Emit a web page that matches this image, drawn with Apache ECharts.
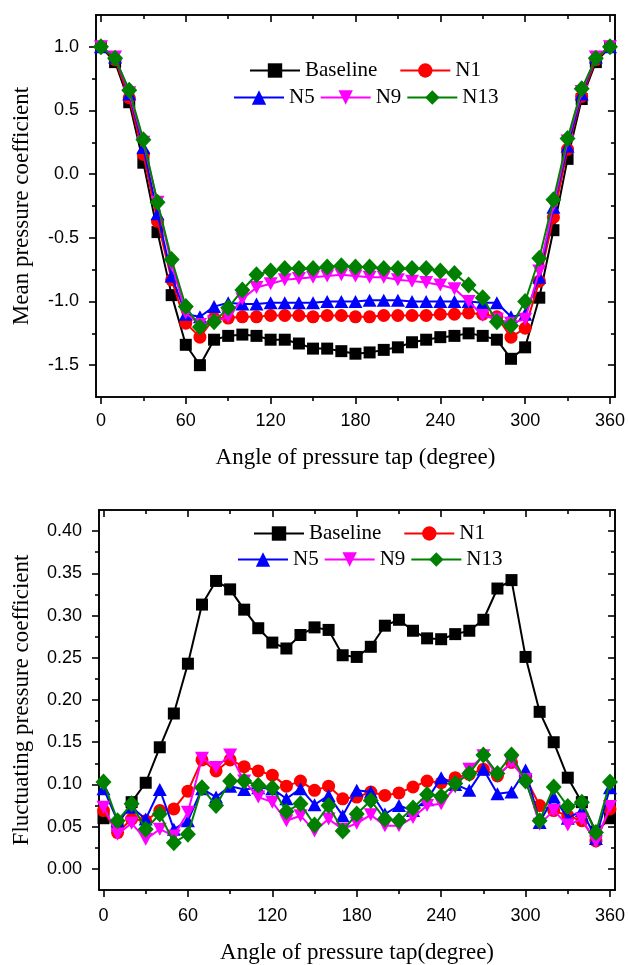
<!DOCTYPE html>
<html>
<head>
<meta charset="utf-8">
<script src="https://cdn.jsdelivr.net/npm/echarts@6/dist/echarts.min.js"></script>
<style>
html,body{margin:0;padding:0;background:#fff;}
#chart{width:628px;height:965px;}
</style>
</head>
<body>
<div id="chart"></div>
<script>
// ---------- DATA ----------
const angles = [0,10,20,30,40,50,60,70,80,90,100,110,120,130,140,150,160,170,180,190,200,210,220,230,240,250,260,270,280,290,300,310,320,330,340,350,360];
const seriesNames = ['Baseline','N1','N5','N9','N13'];

// Mean pressure coefficient
const meanBaseline = [1.0,0.88,0.565,0.09,-0.455,-0.95,-1.34,-1.50,-1.30,-1.27,-1.26,-1.27,-1.30,-1.30,-1.33,-1.37,-1.37,-1.39,-1.41,-1.40,-1.38,-1.36,-1.32,-1.30,-1.28,-1.27,-1.25,-1.27,-1.30,-1.45,-1.36,-0.97,-0.44,0.12,0.59,0.88,1.0];
const meanN1 = [1.0,0.90,0.60,0.155,-0.37,-0.83,-1.17,-1.28,-1.13,-1.13,-1.12,-1.12,-1.11,-1.11,-1.11,-1.12,-1.11,-1.11,-1.12,-1.12,-1.11,-1.11,-1.11,-1.11,-1.10,-1.10,-1.09,-1.10,-1.12,-1.28,-1.21,-0.84,-0.34,0.195,0.61,0.90,1.0];
const meanN5 = [1.0,0.92,0.63,0.21,-0.31,-0.80,-1.10,-1.12,-1.04,-1.01,-1.02,-1.02,-1.01,-1.01,-1.01,-1.01,-1.00,-1.00,-1.00,-0.99,-0.99,-0.99,-1.00,-1.00,-1.00,-1.00,-1.00,-1.01,-1.01,-1.12,-1.10,-0.81,-0.26,0.22,0.63,0.92,1.0];
const meanN9 = [1.0,0.92,0.64,0.25,-0.22,-0.71,-1.09,-1.18,-1.16,-1.12,-0.98,-0.89,-0.86,-0.83,-0.82,-0.81,-0.80,-0.79,-0.80,-0.81,-0.81,-0.83,-0.84,-0.85,-0.87,-0.90,-1.00,-1.11,-1.14,-1.17,-1.14,-0.76,-0.24,0.26,0.65,0.92,1.0];
const meanN13 = [1.0,0.91,0.66,0.27,-0.22,-0.67,-1.04,-1.20,-1.16,-1.05,-0.91,-0.79,-0.76,-0.74,-0.74,-0.74,-0.73,-0.72,-0.73,-0.73,-0.74,-0.74,-0.74,-0.74,-0.76,-0.78,-0.87,-0.97,-1.16,-1.19,-1.00,-0.66,-0.20,0.28,0.67,0.91,1.0];

// Fluctuating pressure coefficient
const flucBaseline = [0.060,0.052,0.079,0.102,0.144,0.184,0.243,0.313,0.341,0.331,0.307,0.285,0.268,0.261,0.277,0.286,0.283,0.253,0.251,0.263,0.288,0.295,0.282,0.273,0.272,0.278,0.282,0.295,0.332,0.342,0.251,0.186,0.150,0.108,0.079,0.044,0.060];
const flucN1 = [0.069,0.043,0.059,0.057,0.069,0.071,0.092,0.129,0.116,0.129,0.121,0.116,0.111,0.098,0.104,0.093,0.098,0.083,0.085,0.091,0.087,0.090,0.097,0.104,0.102,0.108,0.112,0.118,0.110,0.126,0.108,0.075,0.069,0.063,0.057,0.033,0.071];
const flucN5 = [0.095,0.057,0.073,0.059,0.094,0.047,0.057,0.095,0.085,0.098,0.094,0.096,0.095,0.083,0.095,0.076,0.087,0.063,0.093,0.091,0.065,0.075,0.069,0.082,0.108,0.100,0.093,0.118,0.089,0.091,0.117,0.055,0.085,0.060,0.069,0.036,0.096];
const flucN9 = [0.073,0.041,0.054,0.035,0.047,0.039,0.067,0.131,0.120,0.135,0.104,0.085,0.079,0.057,0.063,0.045,0.059,0.047,0.054,0.064,0.051,0.051,0.061,0.075,0.077,0.097,0.118,0.134,0.110,0.126,0.106,0.053,0.069,0.052,0.059,0.032,0.074];
const flucN13 = [0.103,0.057,0.077,0.047,0.065,0.031,0.041,0.096,0.075,0.104,0.104,0.099,0.096,0.068,0.077,0.052,0.075,0.045,0.065,0.081,0.059,0.057,0.072,0.088,0.086,0.101,0.113,0.135,0.113,0.135,0.104,0.057,0.097,0.074,0.079,0.043,0.103];

// Tick labels
const xMajorTicks = [0,60,120,180,240,300,360];
const xMinorTicks = [30,90,150,210,270,330];
const meanMajorTicks = [-1.5,-1.0,-0.5,0.0,0.5,1.0];
const meanMinorTicks = [-1.25,-0.75,-0.25,0.25,0.75];
const flucMajorTicks = [0.00,0.05,0.10,0.15,0.20,0.25,0.30,0.35,0.40];
const flucMinorTicks = [0.025,0.075,0.125,0.175,0.225,0.275,0.325,0.375];

// ---------- STYLE ----------
const colors = ['#000000','#ff0000','#0000ff','#ff00ff','#008000'];
const symbolList = ['rect','circle','triangle','path://M0,0 L20,0 L10,17.3 Z','diamond'];
const symbolSizes = [12,13,[14,13],[14,13],[16,17]];
const serifFont = '"Liberation Serif","Times New Roman",serif';
const sansFont = '"Liberation Sans",Arial,sans-serif';

const grids = [
  {left:96, top:15, width:520, height:382},
  {left:99, top:510, width:518, height:381}
];
const xRanges = [[-3.5,363.5],[-3.2,363.6]];
const yRanges = [[-1.75,1.25],[-0.025,0.425]];

const lineSt = {color:'#000', width:1.6};
const xAxes = [], yAxes = [];

function addX(g, pos, ticks, len, inside, withLabel, extra) {
  const a = {
    type:'value', gridIndex:g, min:xRanges[g][0], max:xRanges[g][1], position:pos,
    axisLine:{show:true, onZero:false, lineStyle:lineSt},
    axisTick:{show:true, inside:inside, length:len, customValues:ticks, lineStyle:lineSt},
    axisLabel: withLabel ? {show:true, customValues:ticks, margin:withLabel.margin, color:'#000', fontSize:18, fontFamily:sansFont, formatter:v=>String(Math.round(v))} : {show:false},
    splitLine:{show:false}, minorTick:{show:false}
  };
  Object.assign(a, extra||{});
  xAxes.push(a);
  return xAxes.length-1;
}
function addY(g, pos, ticks, len, inside, withLabel, extra) {
  const a = {
    type:'value', gridIndex:g, min:yRanges[g][0], max:yRanges[g][1], position:pos,
    axisLine:{show:true, onZero:false, lineStyle:lineSt},
    axisTick:{show:true, inside:inside, length:len, customValues:ticks, lineStyle:lineSt},
    axisLabel: withLabel ? {show:true, customValues:ticks, margin:withLabel.margin, color:'#000', fontSize:18, fontFamily:sansFont, formatter:withLabel.fmt} : {show:false},
    splitLine:{show:false}, minorTick:{show:false}
  };
  Object.assign(a, extra||{});
  yAxes.push(a);
  return yAxes.length-1;
}

const xTitles = ['Angle of pressure tap (degree)','Angle of pressure tap(degree)'];
const yTitles = ['Mean pressure coefficient','Fluctuating pressure coefficient'];
const xNameGaps = [49,51];
const yNameGaps = [63,66];
const yMajor = [meanMajorTicks, flucMajorTicks];
const yMinor = [meanMinorTicks, flucMinorTicks];
const yFmt = [v=>v.toFixed(1), v=>v.toFixed(2)];

const mainX = [], mainY = [];
for (let g=0; g<2; g++) {
  mainX[g] = addX(g,'bottom',xMajorTicks,7,false,{margin:g===0?15:17},{
    name:xTitles[g], nameLocation:'middle', nameGap:xNameGaps[g],
    nameTextStyle:{fontFamily:serifFont, fontSize:23, color:'#000'}
  });
  addX(g,'bottom',xMinorTicks,4,false,null);
  addX(g,'top',xMajorTicks,7,true,null);
  addX(g,'top',xMinorTicks,4,true,null);
  mainY[g] = addY(g,'left',yMajor[g],7,false,{margin:17,fmt:yFmt[g]},{
    name:yTitles[g], nameLocation:'middle', nameGap:yNameGaps[g], nameRotate:90,
    nameTextStyle:{fontFamily:serifFont, fontSize:23, color:'#000'}
  });
  addY(g,'left',yMinor[g],4,false,null);
  addY(g,'right',yMajor[g],7,true,null);
  addY(g,'right',yMinor[g],4,true,null);
}

const meanData = [meanBaseline, meanN1, meanN5, meanN9, meanN13];
const flucData = [flucBaseline, flucN1, flucN5, flucN9, flucN13];
const series = [];
[meanData, flucData].forEach((set, g) => {
  set.forEach((vals, i) => {
    series.push({
      type:'line', name:seriesNames[i],
      xAxisIndex:mainX[g], yAxisIndex:mainY[g],
      data: angles.map((a,k)=>[a, vals[k]]),
      symbol:symbolList[i], symbolSize:symbolSizes[i], showAllSymbol:true,
      lineStyle:{color:colors[i], width:2},
      itemStyle:{color:colors[i]},
      z: 2+i, animation:false
    });
  });
});

function legendRow(names, left, top, gap) {
  return {
    data:names, left:left, top:top, orient:'horizontal', padding:0,
    itemGap:gap, itemWidth:50, itemHeight:18, selectedMode:false,
    textStyle:{fontFamily:serifFont, fontSize:21, color:'#000'}
  };
}
const legends = [
  legendRow(['Baseline','N1'], 249, 60, 22),
  legendRow(['N5','N9','N13'], 233, 87, 5),
  legendRow(['Baseline','N1'], 253, 523, 22),
  legendRow(['N5','N9','N13'], 237, 549, 5)
];

const chart = echarts.init(document.getElementById('chart'), null, {renderer:'canvas'});
chart.setOption({
  animation:false,
  backgroundColor:'#ffffff',
  grid:grids,
  xAxis:xAxes,
  yAxis:yAxes,
  legend:legends,
  series:series
});
</script>
</body>
</html>
